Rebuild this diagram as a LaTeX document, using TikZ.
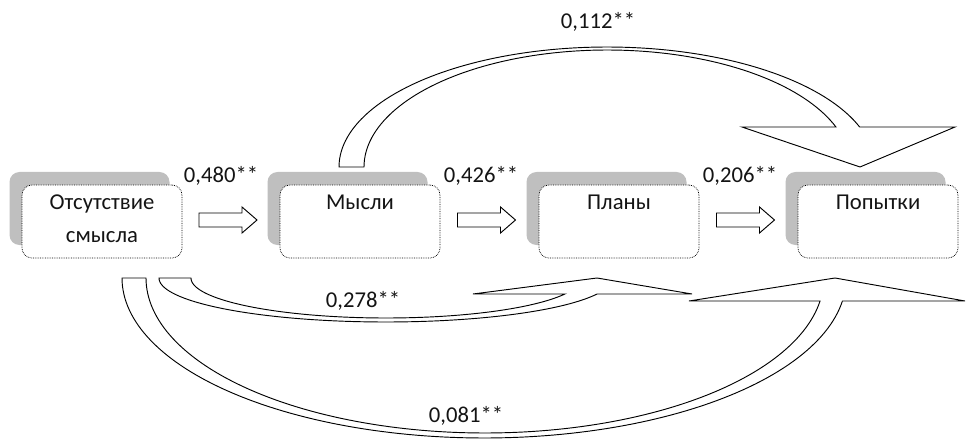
\documentclass[tikz,border=0pt]{standalone}
\usepackage{fontspec}
\setmainfont{Carlito}
\usetikzlibrary{calc}
\definecolor{boxgray}{RGB}{191,191,191}
\definecolor{txtcol}{RGB}{20,20,20}
\newcommand\boxtext[1]{\parbox[c][54.75pt][t]{120pt}{\centering\rule{0pt}{18.75pt}#1\par}}
\begin{document}
\begin{tikzpicture}[x=0.75pt,y=-0.75pt,
  every node/.style={font=\fontsize{17}{24}\selectfont, text=txtcol},
  gbox/.style={fill=boxgray, rounded corners=7.5pt, minimum width=120pt, minimum height=54.75pt, inner sep=0pt},
  fgbox/.style={draw=black, fill=white, line width=0.55pt, dash pattern=on 0.55pt off 0.75pt, rounded corners=7.5pt, inner sep=0pt},
  carrow/.style={draw=black, fill=white, line width=0.7pt, line join=miter},
  sarrow/.pic={\draw[black, fill=white, line width=0.7pt] (-29,-7) -- (14,-7) -- (14,-13) -- (29,0) -- (14,13) -- (14,7) -- (-29,7) -- cycle;},
  lab/.style={anchor=base, inner sep=0pt}
]
\useasboundingbox (0,0) rectangle (967,442);
% gray backing boxes
\node[gbox] (g1) at (89.5,208.5) {};
\node[gbox] (g2) at (347.5,208.5) {};
\node[gbox] (g3) at (606.5,208.5) {};
\node[gbox] (g4) at (865.5,208.5) {};
% front boxes
\node[fgbox] (b1) at ([shift={(12.5,13)}]g1.center) {\boxtext{Отсутствие\\смысла}};
\node[fgbox] (b2) at ([shift={(12.5,13)}]g2.center) {\boxtext{Мысли}};
\node[fgbox] (b3) at ([shift={(12.5,13)}]g3.center) {\boxtext{Планы}};
\node[fgbox] (b4) at ([shift={(12.5,13)}]g4.center) {\boxtext{Попытки}};
% straight block arrows
\pic at ($(b1.east)!0.5!(b2.west)+(-3,-1.5)$) {sarrow};
\pic at ($(b2.east)!0.5!(b3.west)+(-3,-1.5)$) {sarrow};
\pic at ($(b3.east)!0.5!(b4.west)+(-3,-1.5)$) {sarrow};
% curved arrow: Мысли -> Попытки (top)
\draw[carrow] plot[domain=180:340.53, samples=90] ({607+268*cos(\x)},{167+120*sin(\x)})
  -- (955,127) -- (860,167) -- (742,127)
  -- plot[domain=340.01:180, samples=90] ({607.3+243.3*cos(\x)},{167+117*sin(\x)}) -- cycle;
% curved arrow: Отсутствие смысла -> Планы
\draw[carrow] plot[domain=180:21.32, samples=90] ({385.8+226.8*cos(\x)},{278+44*sin(\x)})
  -- (692,294) -- (597,278) -- (473,294)
  -- plot[domain=23.58:180, samples=90] ({386.1+195.1*cos(\x)},{278+40*sin(\x)}) -- cycle;
% curved arrow: Отсутствие смысла -> Попытки
\draw[carrow] plot[domain=180:8.27, samples=120] ({484.1+362.1*cos(\x)},{278+160*sin(\x)})
  -- (965,301) -- (835,278) -- (689,301)
  -- plot[domain=8.53:180, samples=120] ({484.9+338.9*cos(\x)},{278+155*sin(\x)}) -- cycle;
% labels
\node[lab] (l12) at (221,182) {0,480**};
\node[lab] (l23) at (481,182) {0,426**};
\node[lab] (l34) at (740,182) {0,206**};
\node[lab] (l24) at (598,29) {0,112**};
\node[lab] (l13) at (363,307) {0,278**};
\node[lab] (l14) at (466,422) {0,081**};
\end{tikzpicture}
\end{document}
